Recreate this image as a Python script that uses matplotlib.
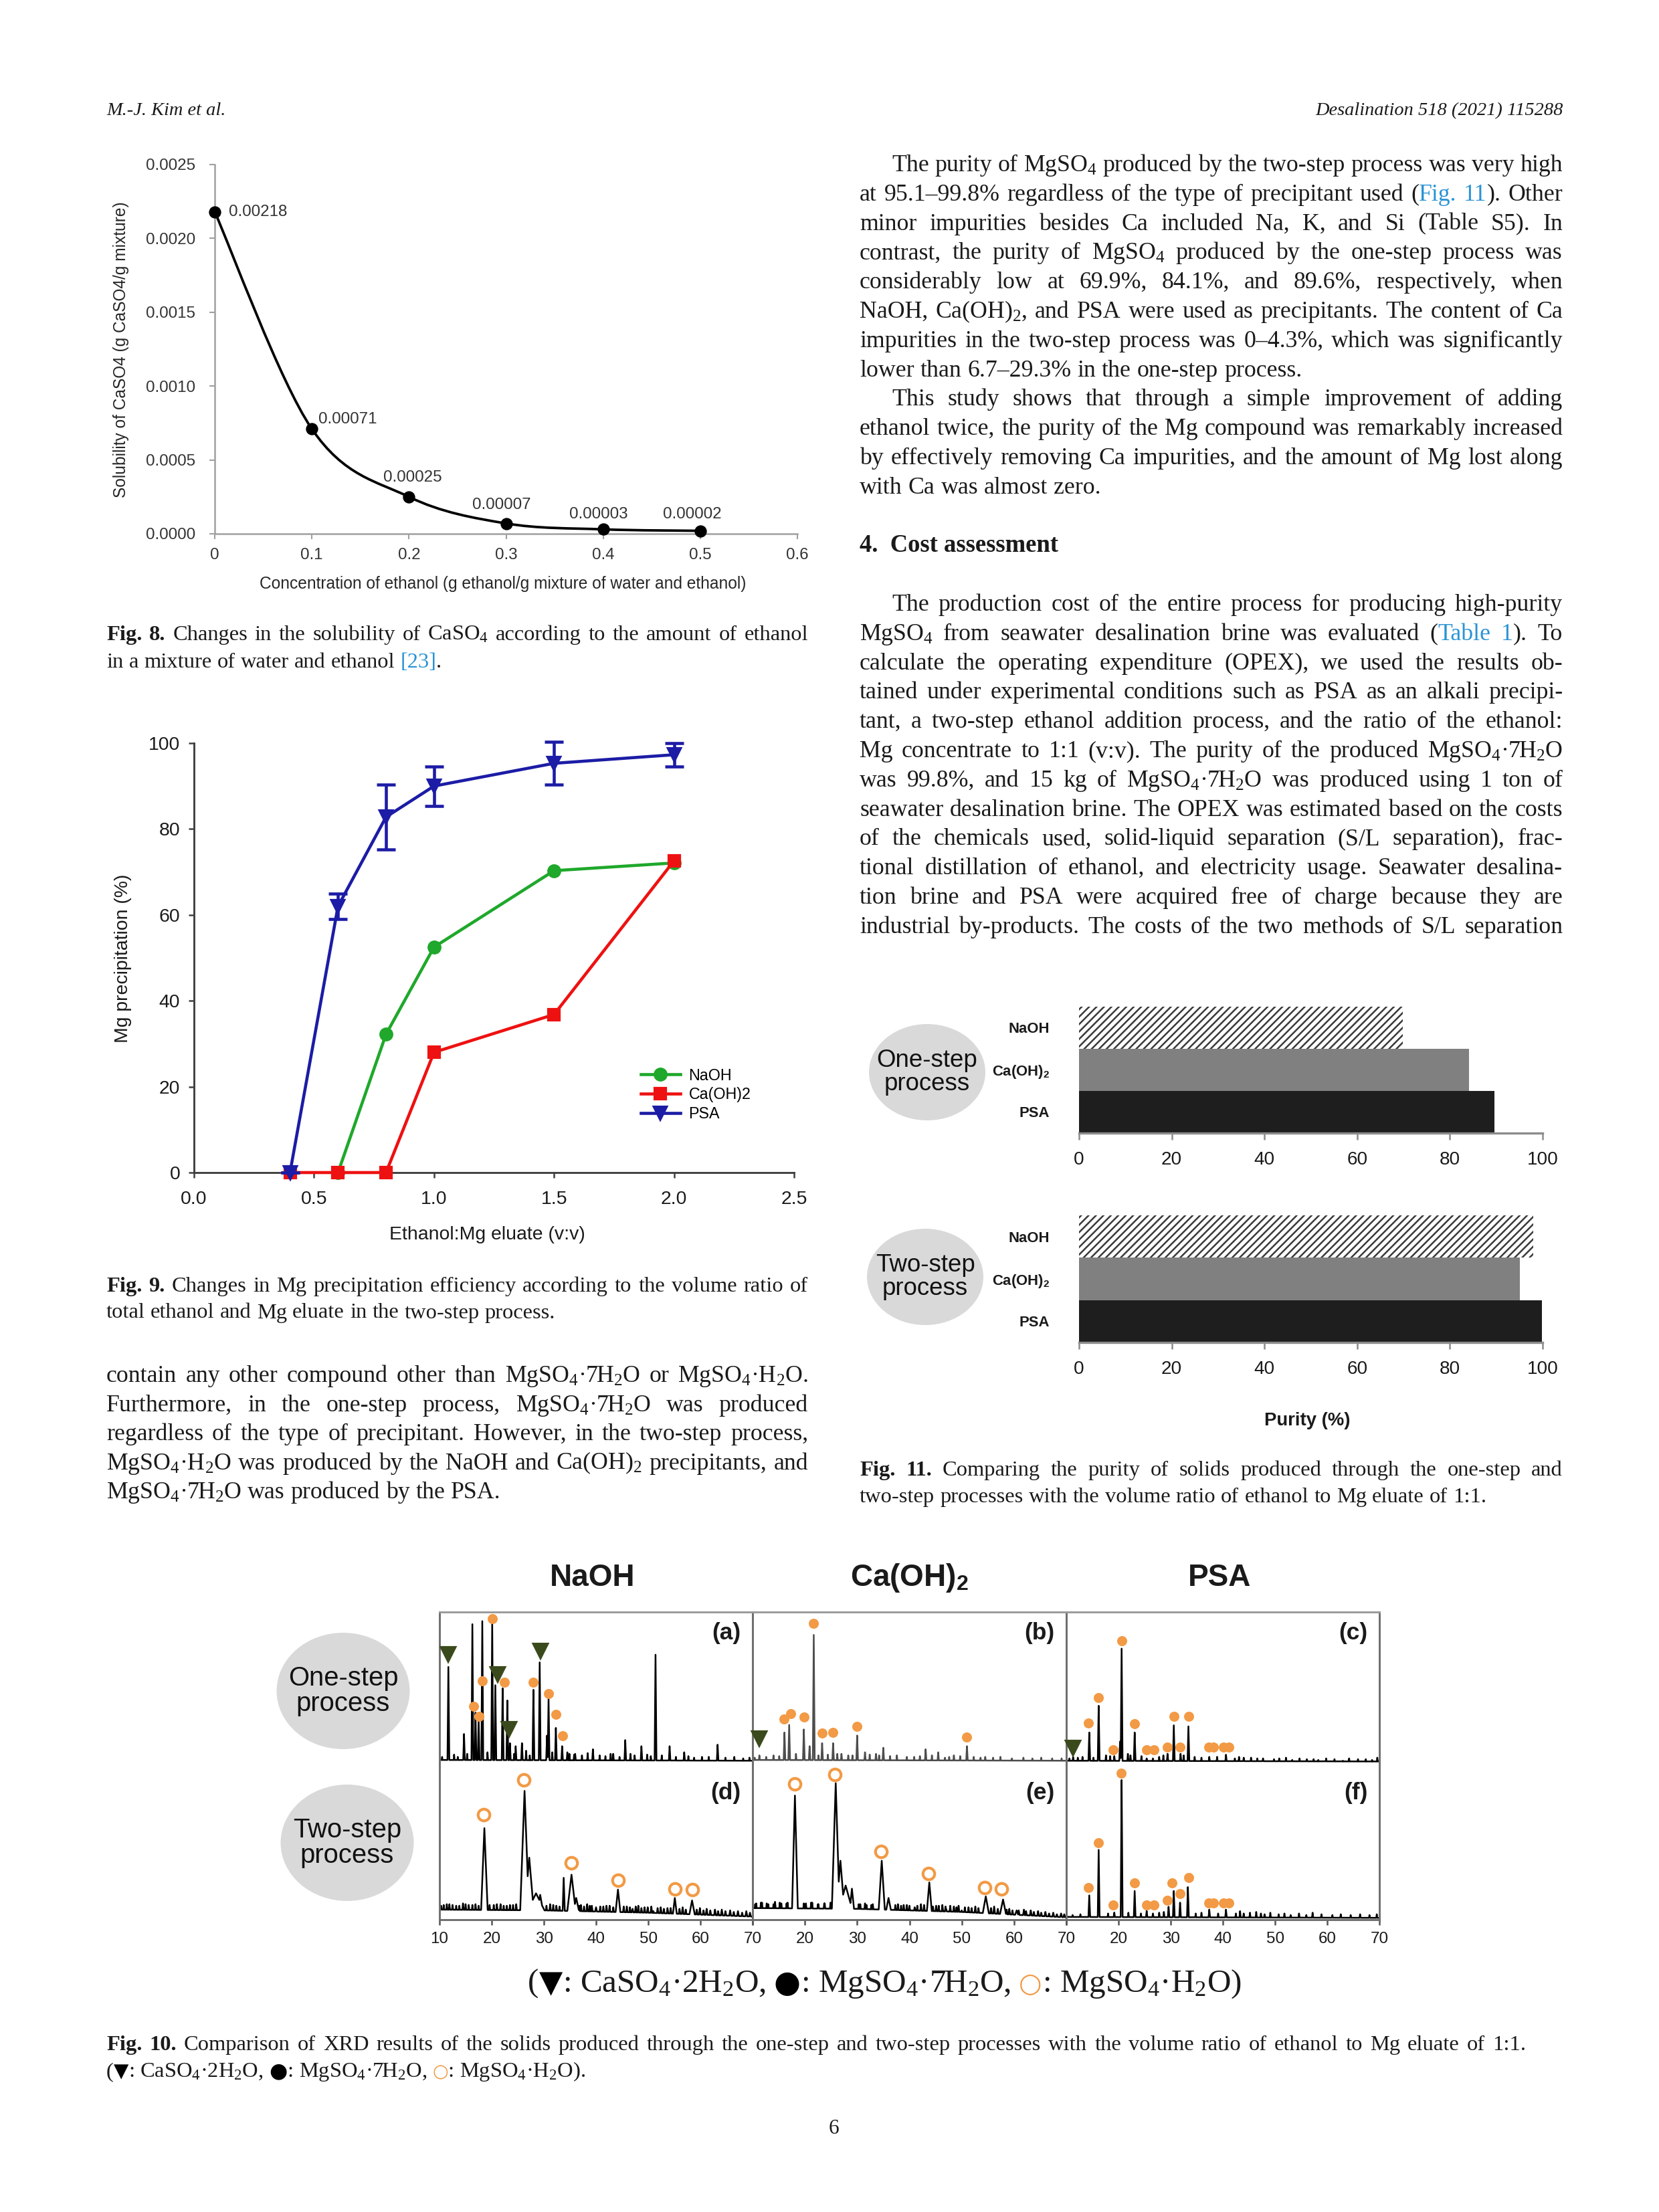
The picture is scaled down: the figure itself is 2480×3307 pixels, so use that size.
"""Page 6 of Kim et al. (Desalination 518, 2021): Figs. 8-11 plus the body text.

Single page rebuilt with matplotlib; output out.png at 2480x3307 (300 dpi).
"""
import numpy as np
import matplotlib
matplotlib.use("Agg")
import matplotlib.pyplot as plt
from matplotlib.path import Path
from matplotlib.patches import PathPatch, Ellipse
from matplotlib.lines import Line2D
from matplotlib.ticker import MultipleLocator, FormatStrFormatter, FuncFormatter

W, H, DPI = 2480, 3307, 300

# ---- Fig. 8: CaSO4 solubility vs ethanol fraction
ETH_FRAC = [0, 0.1, 0.2, 0.3, 0.4, 0.5]
CASO4_SOL = [0.00218, 0.00071, 0.00025, 0.00007, 0.00003, 0.00002]
CASO4_LABELS = ["0.00218", "0.00071", "0.00025", "0.00007", "0.00003", "0.00002"]

# ---- Fig. 9: Mg precipitation (%) vs ethanol:Mg eluate
RATIO_NAOH = [0.6, 0.8, 1.0, 1.5, 2.0]
PREC_NAOH = [0, 32.2, 52.5, 70.3, 72.1]
RATIO_CAOH = [0.4, 0.6, 0.8, 1.0, 1.5, 2.0]
PREC_CAOH = [0, 0, 0, 28.0, 36.8, 72.6]
RATIO_PSA = [0.4, 0.6, 0.8, 1.0, 1.5, 2.0]
PREC_PSA = [0, 62.0, 82.8, 90.0, 95.3, 97.3]
ERR_PSA = [0, 3.0, 7.5, 4.6, 5.0, 2.7]

# ---- Fig. 11: purity (%)
FIG11_LABELS = ["NaOH", r"Ca(OH)$_\mathbf{2}$", "PSA"]
PURITY_ONE = [69.9, 84.1, 89.6]
PURITY_TWO = [98.0, 95.1, 99.8]

# ---- Fig. 10: XRD, peak 2theta / peak top (% of row height)
A_POS = [11.7, 14.7, 16.3, 16.9, 17.5, 18.2, 20.1, 20.7, 22.1, 23.0, 23.5, 24.6, 25.8, 28.0, 29.2,
         30.6, 30.9, 32.3, 33.5, 34.5, 36.0, 39.4, 42.8, 45.6, 48.7, 51.4, 54.1, 56.9, 63.3]
A_TOP = [64, 20, 92, 34, 29, 94, 95, 52, 50, 42, 14, 12, 14, 49, 67,
         19, 43, 24, 12, 8, 7, 10, 7, 16, 12, 72, 12, 8, 13]
A_NOISE_POS = [10.5, 12.8, 13.5, 15.3, 19.2, 24.3, 26.6, 27.3, 31.6, 34.9, 35.8, 37.3, 38.4, 40.7, 41.8,
               43.3, 44.5, 46.6, 47.4, 49.8, 50.5, 52.6, 55.3, 57.7, 58.8, 60.3, 61.6, 64.8, 66.5, 68.2, 69.4]
A_NOISE_TOP = [5, 6.5, 5, 7, 8, 7, 9, 6, 8, 7, 6.5, 6, 7.5, 6, 5.5,
               7, 5, 7, 6, 6.5, 5.5, 6, 5, 5.5, 4.5, 5, 5, 4.5, 5, 4, 4.5]
A_BG = ([10, 70], [3, 2.5])
A_TRI = ([11.7, 21.1, 23.3, 29.3], [72.5, 59, 23.3, 74.7])
A_DOT = ([16.5, 17.6, 18.2, 20.1, 22.4, 28.0, 30.9, 32.3, 33.6], [38, 31.6, 54.7, 95.8, 54, 54, 46.4, 32.7, 18.7])

B_POS = [11.3, 16.1, 17.0, 19.8, 20.9, 21.7, 23.3, 25.4, 27.0, 28.3, 30.0, 31.5, 33.6, 35.0, 39.5,
         43.1, 45.5, 48.5, 51.0, 54.5]
B_TOP = [6, 21, 26, 23, 12, 85, 14, 14, 7, 6, 19, 8, 7, 11, 5, 10, 8, 6, 12, 5]
B_NOISE_POS = [10.4, 12.6, 14.0, 15.1, 18.3, 22.6, 24.4, 26.2, 29.1, 32.4, 34.2, 36.3, 37.6, 40.9, 42.0,
               44.3, 46.8, 47.6, 49.7, 52.3, 53.6, 56.0, 57.4, 59.6, 61.8, 63.5, 65.2, 67.3, 69.1]
B_NOISE_TOP = [4.5, 5, 6, 5.5, 7, 6, 6.5, 7, 6, 6.5, 6, 5.5, 6, 5, 5.5,
               6, 4.5, 5, 5.5, 5, 4.5, 4.5, 5, 4, 4.5, 4, 4.5, 4, 4]
B_BG = ([10, 70], [3, 2.5])
B_TRI = ([11.3], [17])
B_DOT = ([16.0, 17.3, 19.8, 21.7, 23.3, 25.4, 30.0, 51.0], [30, 33.5, 31, 92.5, 20.5, 21, 25, 18])

C_POS = [11.3, 14.4, 16.2, 19.2, 20.3, 20.6, 23.1, 25.4, 26.6, 29.4, 30.6, 31.9, 33.4, 37.4, 40.6,
         44.0, 47.7, 49.8, 53.3, 56.1, 58.3, 63.0, 68.6]
C_TOP = [5, 21, 38.5, 5.5, 15, 76, 21, 4, 4, 7, 25.7, 7, 25, 5, 6.4,
         4.5, 4, 3.5, 3, 3.5, 3, 2.5, 3]
C_NOISE_POS = [10.6, 12.2, 13.1, 15.2, 17.6, 18.4, 21.8, 22.3, 24.4, 27.8, 28.6, 32.5, 34.6, 35.9, 38.9,
               42.3, 43.1, 45.4, 46.6, 50.8, 52.1, 54.7, 57.4, 59.8, 61.4, 64.2, 65.9, 67.4, 69.6]
C_NOISE_TOP = [4, 4.5, 5, 4.5, 6, 5.5, 7, 6, 5.5, 5, 6, 6, 5, 4.5, 5,
               4, 5, 4.5, 4, 4, 4.5, 4, 3.5, 4, 3.5, 4, 3.5, 3.5, 4.5]
C_BG = ([10, 70], [2.5, 2])
C_TRI = ([11.3], [11])
C_DOT = ([14.2, 16.1, 19.0, 20.7, 23.1, 25.4, 26.8, 29.3, 30.6, 31.8, 33.4, 37.3, 38.2, 40.1, 41.1],
         [27, 43.7, 9.7, 81, 26.6, 9.7, 9.7, 11.4, 31.7, 11.4, 31.7, 11.4, 11.4, 11.4, 11.4])

D_POS = [18.6, 26.3, 27.2, 28.5, 29.3, 33.8, 35.3, 36.2, 44.2, 55.1, 58.4, 40.0, 47.0, 51.0]
D_TOP = [59, 83, 40, 17, 16, 27, 29, 14, 19.4, 14, 12.4, 8, 7, 5.5]
D_WID = [0.7, 0.9, 1.0, 2.5, 0.8, 0.25, 1.0, 0.9, 0.6, 0.5, 0.7, 0.5, 0.5, 0.4]
D_NOISE_POS = [10.8, 11.9, 13.2, 14.5, 15.6, 16.9, 20.4, 21.7, 22.9, 24.1, 31.2, 32.4, 37.1, 38.3, 39.2,
               41.4, 42.6, 45.9, 48.1, 49.3, 50.6, 52.4, 53.7, 56.6, 59.9, 61.2, 62.8, 64.1, 65.7, 67.2, 68.8,
               10.3, 11.4, 12.5, 13.8, 15.0, 16.3, 17.5, 19.6, 21.0, 22.3, 23.5, 24.7, 30.5, 31.8, 33.0,
               36.8, 37.7, 38.8, 40.8, 42.0, 43.3, 45.3, 46.5, 47.6, 48.7, 49.9, 51.8, 53.0, 54.3, 56.0,
               57.2, 59.3, 60.6, 61.9, 63.4, 64.8, 66.4, 68.0, 69.5]
D_NOISE_TOP = [9.5, 10, 9, 10.5, 9.5, 10, 9.5, 10, 9, 9.5, 10, 9, 9.5, 10, 9,
               8.5, 9, 8.5, 9, 8, 8.5, 8, 7.5, 8, 7.5, 7, 6.5, 6.5, 6, 5.5, 5.5,
               9, 10, 9.5, 9, 10, 9.5, 9, 9.5, 10, 9, 9.5, 10, 9, 9.5, 8.5,
               9, 8.5, 9, 8.5, 9, 8, 8.5, 8, 8.5, 7.5, 8, 7.5, 7, 7.5, 7,
               6.5, 6.5, 6, 6, 5.5, 5.5, 5, 4.5, 4.5]
D_BG = ([10, 30, 50, 70], [6.5, 6, 4.5, 2])
D_RING = ([18.5, 26.1, 35.3, 44.2, 55.1, 58.4], [67.6, 90, 36.7, 25.6, 20, 19.6])

E_POS = [18.1, 25.9, 26.8, 27.8, 29.0, 34.7, 36.0, 41.0, 43.8, 47.0, 50.0, 54.6, 57.9, 60.5]
E_TOP = [80, 88, 38, 22, 20, 38, 14, 8, 24, 7, 6, 15, 13, 6]
E_WID = [0.6, 0.8, 0.9, 1.8, 0.6, 0.7, 0.8, 0.5, 0.6, 0.6, 0.5, 0.8, 0.8, 0.6]
E_NOISE_POS = [10.7, 11.8, 13.0, 14.3, 15.5, 16.7, 20.2, 21.4, 22.6, 23.8, 30.6, 31.8, 33.0, 37.8, 38.9,
               40.0, 42.2, 45.6, 46.3, 48.5, 49.4, 51.3, 52.6, 56.2, 59.1, 61.9, 63.2, 64.6, 66.0, 67.5, 69.0,
               10.5, 11.6, 12.7, 14.0, 15.2, 16.5, 17.7, 19.8, 21.2, 22.5, 23.7, 24.9, 30.3, 31.5, 32.7,
               37.3, 38.4, 39.5, 41.5, 42.8, 44.5, 45.1, 46.9, 47.8, 49.0, 50.6, 51.9, 53.2, 55.6, 56.9,
               58.6, 59.7, 60.9, 62.3, 63.8, 65.2, 66.7, 68.2, 69.6]
E_NOISE_TOP = [10.5, 11, 10, 11.5, 10.5, 11, 10.5, 11, 10, 10.5, 10, 9.5, 10, 10, 9.5,
               9, 10, 9, 9.5, 8.5, 9, 8, 8.5, 8.5, 7, 6.5, 6, 5.5, 5, 4.5, 4,
               10, 11, 10.5, 10, 11, 10.5, 10, 10.5, 11, 10, 10.5, 11, 10, 10.5, 9.5,
               9.5, 9, 9.5, 9, 9.5, 8.5, 9, 8.5, 9, 8, 8, 7.5, 7.5, 7.5, 7,
               6.5, 6, 6, 5.5, 5, 4.5, 4, 3.5, 3.5]
E_BG = ([10, 30, 50, 70], [7.5, 7, 5, 1.5])
E_RING = ([18.0, 25.7, 34.6, 43.7, 54.4, 57.6], [87.6, 93.5, 44, 29.6, 20.7, 20])

F_POS = [14.4, 16.2, 19.2, 20.6, 23.1, 25.4, 26.6, 29.6, 30.6, 31.8, 33.3, 37.4, 40.6, 44.0, 48.0, 53.0, 56.0]
F_TOP = [15.7, 45, 4.6, 90, 18.5, 5.6, 4, 8.3, 18.5, 11, 21, 6.5, 6.5, 4, 3.5, 3, 3]
F_NOISE_POS = [11.2, 12.7, 18.0, 21.9, 24.3, 27.8, 28.7, 34.8, 35.9, 39.1, 42.5, 43.3, 45.2, 46.4, 47.3,
               49.1, 50.7, 51.8, 54.6, 57.2, 58.9, 61.0, 62.6, 64.5, 66.3, 68.1, 69.5]
F_NOISE_TOP = [3, 3.5, 4, 4.5, 4, 4.5, 5, 4, 4.5, 4, 4, 5.5, 4.5, 5, 4,
               4.5, 3.5, 4, 4, 4.5, 3.5, 3, 3.5, 3, 3.5, 3, 3.5]
F_BG = ([10, 70], [1.8, 1.2])
F_DOT = ([14.2, 16.1, 19.0, 20.5, 23.1, 25.4, 26.8, 29.3, 30.3, 31.8, 33.4, 37.3, 38.2, 40.1, 41.1],
         [20.7, 49.4, 9.3, 94.4, 23.7, 9.3, 9.3, 12.4, 23.7, 17, 27.2, 10.7, 10.7, 10.7, 10.7])

XRD_TICKS = [10, 20, 30, 40, 50, 60, 70]

# ---------------------------------------------------------------- style
plt.rcParams["font.family"] = "Liberation Sans"
plt.rcParams["mathtext.fontset"] = "custom"
plt.rcParams["mathtext.rm"] = "Liberation Serif"
plt.rcParams["mathtext.it"] = "Liberation Serif:italic"
plt.rcParams["mathtext.bf"] = "Liberation Sans:bold"
plt.rcParams["mathtext.sf"] = "Liberation Sans"
plt.rcParams["hatch.linewidth"] = 0.6

SERIF = "Liberation Serif"
INK = "#1a1a1a"
LINK = "#2a93d5"
ORANGE = "#f29a45"
OLIVE = "#3b4a1c"
N, B, L = {}, {"fontweight": "bold"}, {"color": LINK}
SYM = {"family": "DejaVu Sans", "color": "black"}
RING = {"family": "DejaVu Sans", "color": ORANGE, "fontweight": "bold"}
CAP = 7.8  # caption size

fig = plt.figure(figsize=(W / DPI, H / DPI), dpi=DPI)
fig.patch.set_facecolor("white")
R = fig.canvas.get_renderer()


def fx(x):
    return x / W


def fy(y):
    return 1 - y / H


def add_ax(l, t, r, b):
    return fig.add_axes([fx(l), fy(b), (r - l) / W, (b - t) / H])


def make_words(runs):
    words = [[]]
    for text, style in runs:
        for i, part in enumerate(text.split(" ")):
            if i > 0:
                words.append([])
            if part:
                words[-1].append((part, style))
    return [w for w in words if w]


def draw_line(runs, x0, yb, size, width=None, family=SERIF):
    words = make_words(runs)
    placed, lens = [], []
    for word in words:
        segs = []
        for text, style in word:
            kw = dict(fontsize=size, family=family, va="baseline", ha="left", color=INK)
            kw.update(style)
            t = fig.text(0, 0, text, **kw)
            segs.append((t, t.get_window_extent(R).width))
        placed.append(segs)
        lens.append(sum(w for _, w in segs))
    gap = 0.25 * size * DPI / 72
    if width is not None and len(words) > 1:
        gap = max((width - sum(lens)) / (len(words) - 1), 0.5 * gap)
    x = x0
    for segs in placed:
        for t, w in segs:
            t.set_position((fx(x), fy(yb)))
            x += w
        x += gap


def para(lines, x0, x1, yb, pitch, size, indent=0, last_natural=True):
    for i, line in enumerate(lines):
        runs = [(line, N)] if isinstance(line, str) else line
        xs = x0 + (indent if i == 0 else 0)
        natural = last_natural and i == len(lines) - 1
        draw_line(runs, xs, yb + i * pitch, size, None if natural else x1 - xs)


def bubble(cx, cy, w, h, text, size):
    fig.add_artist(Ellipse((fx(cx), fy(cy)), w / W, h / H, transform=fig.transFigure,
                           facecolor="#d9d9d9", edgecolor="none", zorder=0))
    fig.text(fx(cx), fy(cy), text, ha="center", va="center", fontsize=size,
             linespacing=1.0, color="#111111")


# ---------------------------------------------------------------- header
fig.text(fx(159), fy(172), "M.-J. Kim et al.", family=SERIF, fontstyle="italic", fontsize=6.8, color=INK)
fig.text(fx(2337), fy(172), "Desalination 518 (2021) 115288", family=SERIF, fontstyle="italic",
         fontsize=6.8, color=INK, ha="right")

# ---------------------------------------------------------------- Fig. 8
ax8 = add_ax(321, 246, 1192, 798)
ax8.set_xlim(0, 0.6)
ax8.set_ylim(0, 0.0025)
ax8.xaxis.set_major_locator(MultipleLocator(0.1))
ax8.xaxis.set_major_formatter(FuncFormatter(lambda v, _: f"{v:g}"))
ax8.yaxis.set_major_locator(MultipleLocator(0.0005))
ax8.yaxis.set_major_formatter(FormatStrFormatter("%.4f"))
for s in ("top", "right"):
    ax8.spines[s].set_visible(False)
for s in ("left", "bottom"):
    ax8.spines[s].set_color("#a0a0a0")
    ax8.spines[s].set_linewidth(0.6)
ax8.tick_params(length=2, width=0.5, color="#a0a0a0", labelsize=5.8, labelcolor="#333333")
ax8.tick_params(axis="y", pad=5)
ax8.tick_params(axis="x", pad=3)


def smooth_path(xs, ys):
    # Excel-like smoothed line through the data points (Catmull-Rom as Bezier)
    pts = np.column_stack([xs, ys]).astype(float)
    n = len(pts)
    verts, codes = [pts[0]], [Path.MOVETO]
    for i in range(n - 1):
        p0, p1, p2, p3 = pts[max(i - 1, 0)], pts[i], pts[i + 1], pts[min(i + 2, n - 1)]
        verts += [p1 + (p2 - p0) / 6, p2 - (p3 - p1) / 6, p2]
        codes += [Path.CURVE4] * 3
    return Path(verts, codes)


ax8.add_patch(PathPatch(smooth_path(ETH_FRAC, CASO4_SOL), fill=False, edgecolor="black", lw=0.9))
ax8.plot(ETH_FRAC, CASO4_SOL, "o", color="black", ms=3.4, clip_on=False, zorder=3)
label_place = [("left", 5, 0), ("left", 2.4, 3.4), ("center", 1.2, 7),
               ("center", -1.7, 6.7), ("center", -1.7, 5.3), ("center", -2.9, 6)]
for x, y, s, (ha, dx, dy) in zip(ETH_FRAC, CASO4_SOL, CASO4_LABELS, label_place):
    ax8.annotate(s, (x, y), xytext=(dx, dy), textcoords="offset points", ha=ha, va="center",
                 fontsize=5.8, color="#333333")
fig.text(fx(752), fy(873), "Concentration of ethanol (g ethanol/g mixture of water and ethanol)",
         ha="center", va="center", fontsize=5.9, color="#262626")
fig.text(fx(181), fy(523), "Solubility of CaSO4 (g CaSO4/g mixture)", rotation=90,
         ha="center", va="center", fontsize=5.9, color="#262626")

para([[("Fig. 8.", B), (" Changes in the solubility of CaSO$_4$ according to the amount of ethanol", N)],
      [("in a mixture of water and ethanol ", N), ("[23]", L), (".", N)]],
     159, 1208, 957, 40.5, CAP)

# ---------------------------------------------------------------- Fig. 9
GREEN, RED, BLUE = "#1fa82b", "#ee1111", "#1c1ca6"
ax9 = add_ax(290, 1111, 1187, 1753)
ax9.plot(RATIO_NAOH, PREC_NAOH, "-o", color=GREEN, lw=1.1, ms=4, clip_on=False, zorder=3)
ax9.plot(RATIO_CAOH, PREC_CAOH, "-s", color=RED, lw=1.1, ms=4, clip_on=False, zorder=4)
ax9.errorbar(RATIO_PSA, PREC_PSA, yerr=ERR_PSA, fmt="-v", color=BLUE, lw=1.1, ms=4.5,
             elinewidth=1.1, capsize=3.4, capthick=1.1, clip_on=False, zorder=5)
ax9.set_xlim(0, 2.5)
ax9.set_ylim(0, 100)
ax9.xaxis.set_major_locator(MultipleLocator(0.5))
ax9.xaxis.set_major_formatter(FormatStrFormatter("%.1f"))
ax9.yaxis.set_major_locator(MultipleLocator(20))
for s in ("top", "right"):
    ax9.spines[s].set_visible(False)
for s in ("left", "bottom"):
    ax9.spines[s].set_color("#404040")
    ax9.spines[s].set_linewidth(0.7)
ax9.tick_params(length=2, width=0.6, color="#404040", labelsize=6.8, labelcolor="#1a1a1a")
ax9.tick_params(axis="y", pad=3)
ax9.tick_params(axis="x", pad=4.5)
handles = [Line2D([], [], color=GREEN, lw=1.1, marker="o", ms=4, label="NaOH"),
           Line2D([], [], color=RED, lw=1.1, marker="s", ms=4, label="Ca(OH)2"),
           Line2D([], [], color=BLUE, lw=1.1, marker="v", ms=4.5, label="PSA")]
ax9.legend(handles=handles, loc="lower left", bbox_to_anchor=(0.745, 0.118), frameon=False,
           fontsize=5.6, handlelength=2.5, handletextpad=0.55, labelspacing=0.25,
           borderpad=0, borderaxespad=0, numpoints=1)
fig.text(fx(728), fy(1846), "Ethanol:Mg eluate (v:v)", ha="center", va="center", fontsize=6.8,
         color="#1a1a1a")
fig.text(fx(184), fy(1433), "Mg precipitation (%)", rotation=90, ha="center", va="center",
         fontsize=6.8, color="#1a1a1a")

para([[("Fig. 9.", B), (" Changes in Mg precipitation efficiency according to the volume ratio of", N)],
      "total ethanol and Mg eluate in the two-step process."],
     159, 1208, 1931, 39.5, CAP)

para(["contain any other compound other than MgSO$_4$·7H$_2$O or MgSO$_4$·H$_2$O.",
      "Furthermore, in the one-step process, MgSO$_4$·7H$_2$O was produced",
      "regardless of the type of precipitant. However, in the two-step process,",
      "MgSO$_4$·H$_2$O was produced by the NaOH and Ca(OH)$_2$ precipitants, and",
      "MgSO$_4$·7H$_2$O was produced by the PSA."],
     159, 1208, 2066, 43.6, 8.6)

# ---------------------------------------------------------------- right column text
RP = 43.8
RY = 256
para(["The purity of MgSO$_4$ produced by the two-step process was very high",
      [("at 95.1–99.8% regardless of the type of precipitant used (", N), ("Fig. 11", L), ("). Other", N)],
      "minor impurities besides Ca included Na, K, and Si (Table S5). In",
      "contrast, the purity of MgSO$_4$ produced by the one-step process was",
      "considerably low at 69.9%, 84.1%, and 89.6%, respectively, when",
      "NaOH, Ca(OH)$_2$, and PSA were used as precipitants. The content of Ca",
      "impurities in the two-step process was 0–4.3%, which was significantly",
      "lower than 6.7–29.3% in the one-step process."],
     1285, 2336, RY, RP, 8.6, indent=48)
para(["This study shows that through a simple improvement of adding",
      "ethanol twice, the purity of the Mg compound was remarkably increased",
      "by effectively removing Ca impurities, and the amount of Mg lost along",
      "with Ca was almost zero."],
     1285, 2336, RY + 8 * RP, RP, 8.6, indent=48)
fig.text(fx(1285), fy(RY + 13 * RP), "4.  Cost assessment", family=SERIF, fontweight="bold",
         fontsize=8.8, color=INK, va="baseline")
para(["The production cost of the entire process for producing high-purity",
      [("MgSO$_4$ from seawater desalination brine was evaluated (", N), ("Table 1", L), ("). To", N)],
      "calculate the operating expenditure (OPEX), we used the results ob-",
      "tained under experimental conditions such as PSA as an alkali precipi-",
      "tant, a two-step ethanol addition process, and the ratio of the ethanol:",
      "Mg concentrate to 1:1 (v:v). The purity of the produced MgSO$_4$·7H$_2$O",
      "was 99.8%, and 15 kg of MgSO$_4$·7H$_2$O was produced using 1 ton of",
      "seawater desalination brine. The OPEX was estimated based on the costs",
      "of the chemicals used, solid-liquid separation (S/L separation), frac-",
      "tional distillation of ethanol, and electricity usage. Seawater desalina-",
      "tion brine and PSA were acquired free of charge because they are",
      "industrial by-products. The costs of the two methods of S/L separation"],
     1285, 2336, RY + 15 * RP, RP, 8.6, indent=48, last_natural=False)

# ---------------------------------------------------------------- Fig. 11
for vals, (top, bot), name, (cx, cy) in zip([PURITY_ONE, PURITY_TWO], [(1505, 1694), (1817, 2007)],
                                           ["One-step\nprocess", "Two-step\nprocess"],
                                           [(1386, 1603), (1383, 1909)]):
    ax = add_ax(1613, top, 2306, bot)
    ax.barh(2, vals[0], height=1, color="white", edgecolor="#3a3a3a", hatch="/" * 9, lw=0)
    ax.barh(1, vals[1], height=1, color="#808080", lw=0)
    ax.barh(0, vals[2], height=1, color="#1e1e1e", lw=0)
    ax.set_xlim(0, 100)
    ax.set_ylim(-0.5, 2.5)
    ax.set_xticks(range(0, 101, 20))
    ax.set_yticks([2, 1, 0], FIG11_LABELS, fontweight="bold", fontsize=5.3)
    for s in ("left", "top", "right"):
        ax.spines[s].set_visible(False)
    ax.spines["bottom"].set_color("#8c8c8c")
    ax.spines["bottom"].set_linewidth(0.8)
    ax.tick_params(axis="y", length=0, pad=10.5, labelcolor="#1a1a1a")
    ax.tick_params(axis="x", length=2.5, width=0.6, color="#8c8c8c", labelsize=6.7, pad=4,
                   labelcolor="#1a1a1a")
    bubble(cx, cy, 174, 144, name, 8.8)
fig.text(fx(1954), fy(2124), "Purity (%)", ha="center", va="center", fontweight="bold",
         fontsize=6.6, color="#1a1a1a")

para([[("Fig. 11.", B), (" Comparing the purity of solids produced through the one-step and", N)],
      "two-step processes with the volume ratio of ethanol to Mg eluate of 1:1."],
     1285, 2336, 2206, 40, CAP)

# ---------------------------------------------------------------- Fig. 10 (XRD)
COLS = [657, 1125, 1594, 2062]
ROWS = [2410, 2638, 2870]
SHARP = 0.18


def xrd_trace(ax, pos, top, wid, nz_pos, nz_top, nz_w, bg, color="black"):
    grid = np.linspace(10, 70, 6001)
    y = np.interp(grid, bg[0], bg[1])
    for p, t, w in zip(list(pos) + list(nz_pos), list(top) + list(nz_top),
                       list(wid) + [nz_w] * len(nz_pos)):
        y = np.maximum(y, t * (1 - np.abs(grid - p) / w))
    ax.plot(grid, y, color=color, lw=0.6)


def xrd_marks(ax, dots=None, rings=None, tris=None):
    if tris:
        ax.plot(tris[0], tris[1], "v", color=OLIVE, ms=5, clip_on=False, zorder=4)
    if dots:
        ax.plot(dots[0], dots[1], "o", color=ORANGE, ms=3.6, mew=0, clip_on=False, zorder=4)
    if rings:
        ax.plot(rings[0], rings[1], "o", mfc="none", mec=ORANGE, mew=1.0, ms=4.2,
                clip_on=False, zorder=4)


panels = [
    [dict(pos=A_POS, top=A_TOP, wid=[SHARP] * len(A_POS), nz=(A_NOISE_POS, A_NOISE_TOP, 0.15), bg=A_BG,
          dots=A_DOT, tris=A_TRI, tag="(a)", color="black"),
     dict(pos=B_POS, top=B_TOP, wid=[SHARP] * len(B_POS), nz=(B_NOISE_POS, B_NOISE_TOP, 0.15), bg=B_BG,
          dots=B_DOT, tris=B_TRI, tag="(b)", color="#4d4d4d"),
     dict(pos=C_POS, top=C_TOP, wid=[SHARP] * len(C_POS), nz=(C_NOISE_POS, C_NOISE_TOP, 0.15), bg=C_BG,
          dots=C_DOT, tris=C_TRI, tag="(c)", color="black")],
    [dict(pos=D_POS, top=D_TOP, wid=D_WID, nz=(D_NOISE_POS, D_NOISE_TOP, 0.3), bg=D_BG,
          rings=D_RING, tag="(d)", color="black"),
     dict(pos=E_POS, top=E_TOP, wid=E_WID, nz=(E_NOISE_POS, E_NOISE_TOP, 0.3), bg=E_BG,
          rings=E_RING, tag="(e)", color="black"),
     dict(pos=F_POS, top=F_TOP, wid=[SHARP] * len(F_POS), nz=(F_NOISE_POS, F_NOISE_TOP, 0.15), bg=F_BG,
          dots=F_DOT, tag="(f)", color="black")],
]

for ri in range(2):
    for ci in range(3):
        p = panels[ri][ci]
        ax = add_ax(COLS[ci], ROWS[ri], COLS[ci + 1], ROWS[ri + 1])
        ax.set_xlim(10, 70)
        ax.set_ylim(0, 100)
        ax.set_yticks([])
        xrd_trace(ax, p["pos"], p["top"], p["wid"], *p["nz"], p["bg"], color=p["color"])
        xrd_marks(ax, p.get("dots"), p.get("rings"), p.get("tris"))
        for s in ax.spines.values():
            s.set_color("#6e6e6e")
            s.set_linewidth(0.7)
        if ri == 0:
            ax.spines["bottom"].set_visible(False)
            ax.spines["top"].set_color("#9a9a9a")
            ax.tick_params(axis="x", bottom=False, labelbottom=False)
            ty = 0.86
        else:
            ax.spines["top"].set_visible(False)
            ax.set_xticks(XRD_TICKS)
            ax.set_xticklabels([str(t) if (ci == 0 or t > 10) else "" for t in XRD_TICKS])
            ax.tick_params(axis="x", length=2, width=0.6, color="#555555", labelsize=5.8,
                           pad=2.4, labelcolor="#1a1a1a")
            ty = 0.815
        ax.text(0.962, ty, p["tag"], transform=ax.transAxes, ha="right", va="center",
                fontweight="bold", fontsize=8.5, color="#1a1a1a")

for x, t in zip([886, 1359, 1823], ["NaOH", r"Ca(OH)$_\mathbf{2}$", "PSA"]):
    fig.text(fx(x), fy(2371), t, ha="center", va="baseline", fontweight="bold", fontsize=11,
             color="#1a1a1a")
bubble(513, 2528, 199, 174, "One-step\nprocess", 9.6)
bubble(519, 2755, 199, 174, "Two-step\nprocess", 9.6)

draw_line([("(", N), ("▼", dict(SYM, fontsize=11)), (": CaSO$_4$·2H$_2$O, ", N),
           ("●", dict(SYM, fontsize=11)), (": MgSO$_4$·7H$_2$O, ", N),
           ("○", dict(RING, fontsize=9.5)), (": MgSO$_4$·H$_2$O)", N)],
          789, 2978, 11.8)

para([[("Fig. 10.", B), (" Comparison of XRD results of the solids produced through the one-step and "
                         "two-step processes with the volume ratio of ethanol to Mg eluate of 1:1.", N)],
      [("(", N), ("▼", dict(SYM, fontsize=7)), (": CaSO$_4$·2H$_2$O, ", N), ("●", dict(SYM, fontsize=7.5)),
       (": MgSO$_4$·7H$_2$O, ", N), ("○", dict(RING, fontsize=6.5)), (": MgSO$_4$·H$_2$O).", N)]],
     159, 2281, 3065, 40, CAP)

fig.text(fx(1246), fy(3190), "6", ha="center", va="baseline", family=SERIF, fontsize=7.5, color=INK)

fig.savefig("out.png", dpi=DPI, facecolor="white")
